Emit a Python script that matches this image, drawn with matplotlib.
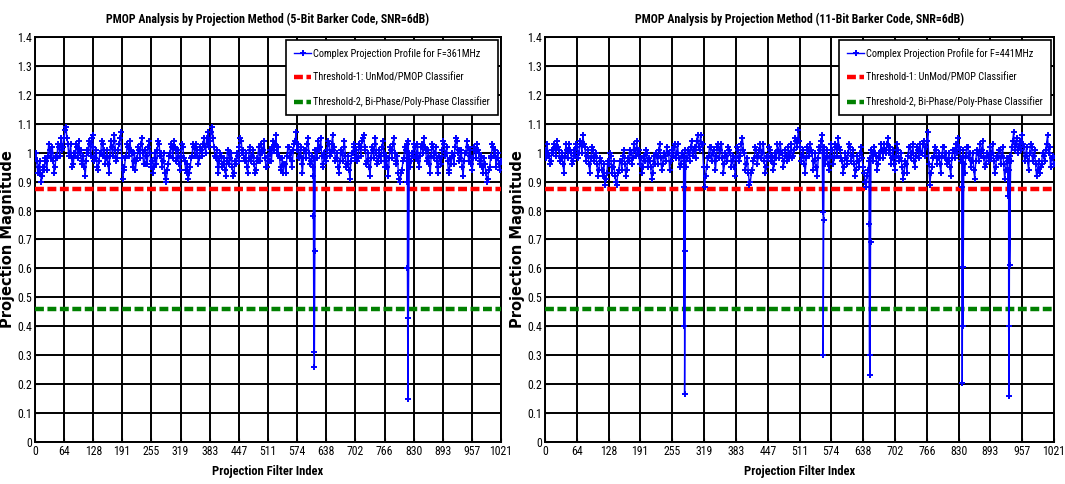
import numpy as np
import matplotlib
matplotlib.use('Agg')
import matplotlib.pyplot as plt
from matplotlib import font_manager as fm

# projection profile, read at filter index 0, 4, ..., 1020
left_profile = [
    0.98, 0.97, 0.95, 0.93, 0.92, 0.94, 0.97, 0.99, 1.01, 1.00, 0.97, 0.95, 0.98, 1.02, 1.03, 1.01,
    1.05, 1.09, 1.03, 1.00, 0.98, 0.96, 0.99, 1.02, 1.04, 1.01, 0.97, 0.95, 0.97, 1.00, 1.03, 1.05,
    1.02, 0.98, 0.95, 0.97, 1.00, 1.03, 1.01, 0.98, 0.96, 0.99, 1.02, 1.04, 1.01, 0.98, 1.03, 1.07,
    0.91, 0.95, 0.99, 1.02, 1.04, 1.00, 0.97, 0.94, 0.98, 1.01, 1.03, 1.00, 0.96, 0.99, 1.02, 1.00,
    0.97, 0.95, 0.98, 1.01, 1.03, 1.00, 0.97, 0.93, 0.91, 0.96, 1.00, 1.02, 1.04, 1.01, 0.98, 0.96,
    0.99, 1.02, 0.97, 0.93, 0.91, 0.95, 0.99, 1.02, 1.03, 1.00, 0.98, 1.01, 1.03, 1.02, 1.05, 1.07,
    1.04, 1.09, 1.02, 0.98, 0.95, 0.97, 0.99, 0.96, 0.94, 0.97, 1.00, 0.98, 0.95, 0.93, 0.96, 0.99,
    1.02, 1.04, 1.01, 0.97, 0.95, 0.98, 1.01, 0.99, 0.96, 0.94, 0.97, 1.00, 1.03, 1.01, 0.98, 0.95,
    0.97, 1.00, 1.02, 1.01, 1.06, 1.02, 0.98, 0.95, 0.93, 0.96, 0.99, 1.02, 1.00, 0.97, 1.03, 1.07,
    1.03, 0.99, 0.96, 0.98, 1.01, 1.03, 1.00, 0.97, 0.95, 0.98, 1.01, 1.04, 1.02, 0.99, 0.96, 0.98,
    1.01, 1.03, 1.00, 1.06, 1.02, 0.98, 0.95, 0.97, 1.00, 1.02, 0.99, 0.96, 0.94, 0.97, 1.00, 1.03,
    1.01, 0.98, 1.02, 1.04, 1.06, 1.01, 0.97, 0.95, 0.98, 1.01, 1.03, 1.00, 0.97, 0.99, 1.02, 1.00,
    0.97, 0.95, 0.98, 1.01, 1.03, 1.00, 0.96, 0.93, 0.90, 0.94, 0.98, 1.01, 1.03, 1.00, 0.97, 0.99,
    1.02, 1.00, 0.97, 0.99, 1.03, 1.05, 1.01, 0.98, 0.96, 0.99, 1.02, 1.00, 0.97, 0.95, 0.98, 1.01,
    1.03, 1.00, 0.97, 0.94, 0.96, 0.99, 1.02, 1.04, 1.01, 0.98, 0.95, 0.97, 1.00, 1.02, 0.99, 0.96,
    0.98, 1.01, 1.03, 1.00, 0.97, 0.95, 0.98, 0.93, 0.91, 0.95, 0.99, 1.02, 1.01, 0.98, 0.96, 0.97,
]
# in-between samples, filter index 2, 6, ..., 1018
left_profile_mid = [
    1.00, 0.93, 0.97, 0.90, 0.95, 0.98, 0.94, 1.03, 0.98, 1.02, 0.93, 0.99, 1.03, 0.99, 1.05, 1.02,
    1.08, 1.05, 0.99, 1.03, 0.95, 1.00, 1.03, 0.98, 1.00, 0.96, 0.99, 0.92, 1.01, 1.04, 0.99, 1.06,
    0.97, 1.01, 0.94, 1.00, 1.04, 0.99, 0.96, 1.01, 0.93, 1.04, 0.99, 1.06, 0.97, 1.01, 1.05, 0.98,
    0.94, 0.98, 1.03, 0.99, 1.01, 0.95, 1.00, 0.97, 1.02, 0.98, 1.05, 0.96, 1.01, 0.96, 1.04, 0.95,
    0.93, 1.00, 0.96, 1.04, 0.99, 0.95, 1.00, 0.90, 0.94, 0.99, 1.03, 0.98, 1.02, 0.97, 1.01, 0.94,
    1.03, 0.98, 0.94, 0.96, 0.93, 0.98, 1.03, 0.99, 1.01, 0.96, 1.02, 0.99, 1.05, 1.00, 1.03, 1.02,
    1.07, 1.05, 0.99, 1.01, 0.93, 1.00, 0.95, 0.98, 0.92, 1.01, 0.96, 1.00, 0.92, 0.97, 1.00, 0.97,
    1.05, 1.00, 0.98, 1.00, 0.93, 1.02, 0.97, 1.01, 0.93, 0.98, 1.02, 0.97, 1.00, 1.04, 0.95, 0.99,
    1.01, 0.97, 1.04, 1.03, 1.00, 0.99, 0.94, 0.98, 0.96, 0.93, 1.02, 0.98, 0.95, 1.01, 1.04, 1.01,
    0.98, 1.02, 0.93, 1.01, 0.98, 1.05, 0.96, 0.99, 0.92, 1.01, 0.98, 1.01, 1.05, 0.95, 1.00, 0.97,
    1.04, 0.99, 1.03, 1.01, 0.97, 1.00, 0.93, 1.01, 0.97, 1.04, 0.95, 0.99, 0.91, 1.00, 1.02, 0.98,
    0.97, 1.03, 0.99, 1.05, 1.02, 0.96, 1.00, 0.92, 1.02, 0.98, 1.05, 0.96, 1.01, 0.97, 1.04, 0.95,
    0.99, 0.92, 1.02, 0.98, 1.05, 0.97, 0.99, 0.91, 0.93, 0.97, 1.02, 0.98, 1.04, 0.95, 1.00, 1.03,
    0.98, 1.03, 0.95, 1.02, 1.00, 1.02, 0.97, 1.01, 0.93, 1.03, 0.98, 1.02, 0.93, 0.99, 0.96, 1.04,
    0.99, 1.02, 0.93, 0.98, 1.00, 0.96, 1.05, 1.00, 0.97, 1.01, 0.92, 1.00, 1.04, 0.97, 1.01, 0.94,
    1.02, 0.98, 1.01, 0.96, 0.99, 0.93, 0.96, 0.90, 0.94, 0.98, 1.03, 0.99, 0.95, 1.00, 0.94,
]
right_profile = [
    1.01, 1.03, 0.99, 0.97, 1.00, 1.02, 1.04, 1.01, 0.98, 0.96, 0.99, 1.01, 1.03, 1.00, 0.97, 0.99,
    1.02, 1.00, 1.03, 1.06, 1.02, 0.99, 0.96, 0.98, 1.01, 0.99, 0.96, 0.94, 0.97, 0.92, 0.89, 0.93,
    0.96, 0.99, 0.95, 0.92, 0.89, 0.94, 0.97, 0.99, 0.96, 0.94, 0.97, 1.00, 0.98, 1.01, 1.04, 1.01,
    0.98, 0.95, 0.97, 1.00, 0.98, 0.95, 0.93, 0.96, 0.99, 1.01, 0.98, 0.96, 0.99, 1.02, 1.00, 0.97,
    0.99, 1.03, 1.00, 0.98, 0.96, 0.99, 1.01, 0.98, 1.00, 1.02, 0.99, 1.02, 1.04, 1.02, 1.06, 1.03,
    0.88, 0.95, 0.99, 1.02, 1.00, 0.97, 0.99, 1.03, 1.01, 0.98, 0.96, 0.99, 1.02, 1.00, 0.97, 0.95,
    0.98, 1.01, 0.99, 1.05, 1.00, 0.96, 0.93, 0.90, 0.94, 0.98, 1.01, 0.99, 1.03, 1.00, 0.97, 0.95,
    0.98, 1.01, 0.99, 0.96, 0.98, 1.01, 1.03, 1.00, 0.97, 0.99, 1.02, 1.00, 0.98, 1.01, 1.04, 1.08,
    1.02, 0.99, 0.96, 0.98, 1.01, 1.03, 1.00, 0.97, 0.95, 0.98, 1.01, 1.06, 1.02, 0.98, 0.96, 0.99,
    1.01, 0.98, 1.02, 1.05, 1.01, 0.97, 0.95, 0.98, 1.00, 1.02, 0.99, 0.96, 0.94, 0.97, 1.00, 0.98,
    0.93, 0.88, 0.94, 0.98, 1.00, 1.02, 0.99, 0.96, 0.98, 1.01, 1.03, 1.00, 1.05, 1.02, 0.98, 0.96,
    0.99, 1.01, 0.98, 0.95, 0.93, 0.96, 0.99, 1.02, 1.00, 0.97, 0.99, 1.01, 1.03, 1.00, 1.04, 1.02,
    1.07, 0.89, 0.95, 0.99, 1.01, 0.98, 0.96, 0.99, 1.02, 1.00, 0.97, 0.95, 0.98, 1.01, 1.03, 1.05,
    1.01, 0.98, 0.96, 0.99, 1.02, 1.00, 0.97, 0.94, 0.97, 1.00, 1.03, 1.01, 0.98, 0.96, 0.99, 1.02,
    1.00, 0.97, 0.95, 0.98, 1.01, 0.99, 0.96, 0.94, 0.97, 0.99, 1.02, 1.07, 1.03, 1.00, 1.04, 1.06,
    1.02, 0.99, 0.97, 1.00, 1.02, 0.99, 0.96, 0.94, 0.93, 0.96, 0.99, 1.01, 1.06, 1.02, 0.98, 0.96,
]
right_profile_mid = [
    0.98, 1.00, 0.96, 1.01, 1.03, 0.99, 1.02, 0.97, 1.00, 0.93, 1.03, 0.98, 1.01, 0.96, 1.01, 1.03,
    0.98, 1.04, 1.00, 1.03, 0.97, 1.01, 0.93, 1.02, 0.97, 1.00, 0.92, 0.98, 0.94, 0.96, 0.91, 0.97,
    1.00, 0.93, 0.97, 0.90, 0.93, 0.97, 0.94, 1.01, 0.92, 0.98, 1.01, 0.96, 1.03, 0.99, 1.00, 0.96,
    0.93, 0.99, 1.01, 0.95, 0.97, 0.91, 0.99, 1.00, 0.96, 1.03, 0.94, 1.00, 0.97, 1.00, 0.94, 1.01,
    1.02, 0.98, 1.03, 0.95, 1.00, 0.97, 0.95, 1.01, 0.97, 1.04, 1.01, 0.98, 1.06, 1.01, 1.03, 0.95,
    0.92, 0.98, 1.02, 0.97, 1.01, 0.94, 1.02, 0.98, 1.03, 0.93, 1.00, 0.97, 1.01, 0.95, 0.99, 0.92,
    1.02, 0.97, 1.03, 1.01, 0.94, 0.98, 0.89, 0.93, 0.97, 1.02, 0.96, 1.01, 0.98, 1.03, 0.93, 0.99,
    1.02, 0.97, 0.94, 1.00, 1.03, 0.98, 1.00, 0.95, 1.01, 0.97, 0.98, 1.03, 0.99, 1.05, 1.02, 1.04,
    0.97, 1.01, 0.93, 1.02, 0.99, 1.01, 0.94, 1.00, 0.92, 1.02, 1.04, 1.00, 0.96, 1.01, 0.94, 1.03,
    0.96, 1.03, 0.99, 1.02, 0.98, 0.93, 1.00, 0.96, 1.03, 0.97, 1.01, 0.92, 0.99, 0.95, 1.02, 0.95,
    0.90, 0.92, 0.97, 1.01, 0.97, 1.00, 0.94, 1.00, 1.03, 0.98, 1.01, 1.03, 1.00, 0.96, 1.01, 0.94,
    1.03, 0.97, 1.00, 0.91, 0.97, 0.93, 1.02, 0.98, 1.03, 0.95, 1.02, 0.98, 1.00, 1.03, 0.99, 1.04,
    0.96, 0.93, 0.98, 1.02, 0.96, 1.00, 0.93, 1.02, 0.98, 0.96, 1.00, 0.92, 1.01, 0.98, 1.00, 1.02,
    0.97, 1.01, 0.93, 1.02, 0.98, 0.95, 1.00, 0.91, 1.01, 0.97, 0.99, 1.04, 0.95, 1.00, 0.97, 0.98,
    1.03, 0.93, 0.99, 1.01, 0.96, 1.02, 0.91, 0.98, 0.94, 0.97, 1.04, 1.01, 1.05, 1.02, 1.01, 1.03,
    0.97, 1.02, 0.94, 1.03, 0.97, 1.01, 0.92, 0.97, 0.95, 1.00, 0.97, 1.03, 1.00, 0.95, 0.99,
]

# dips where the filter matches the signal
left_dip_idx = [610, 611, 612, 613, 815, 816, 817, 818]
left_dip_val = [0.78, 0.31, 0.26, 0.66, 0.90, 0.60, 0.15, 0.43]
right_dip_idx = [278, 279, 280, 281, 557, 558, 559, 650, 651, 652, 653,
                 836, 837, 838, 839, 929, 930, 931, 932]
right_dip_val = [0.88, 0.40, 0.165, 0.66, 0.794, 0.30, 0.767, 0.754, 0.30, 0.233, 0.69,
                 0.88, 0.205, 0.40, 0.605, 0.85, 0.40, 0.16, 0.612]

threshold_1 = 0.875
threshold_2 = 0.46

x_ticks = [0, 64, 128, 191, 255, 319, 383, 447, 511, 574, 638, 702, 766, 830, 893, 957, 1021]
y_ticks = [0, 0.1, 0.2, 0.3, 0.4, 0.5, 0.6, 0.7, 0.8, 0.9, 1, 1.1, 1.2, 1.3, 1.4]
y_ticklabels = ['0', '0.1', '0.2', '0.3', '0.4', '0.5', '0.6', '0.7', '0.8', '0.9',
                '1', '1.1', '1.2', '1.3', '1.4']

titles = ['PMOP Analysis by Projection Method (5-Bit Barker Code, SNR=6dB)',
          'PMOP Analysis by Projection Method (11-Bit Barker Code, SNR=6dB)']
freqs = ['361MHz', '441MHz']


def find_narrow(bold):
    # look for a condensed sans face, the original uses Arial Narrow
    prefs = ['Liberation Sans Narrow', 'Arial Narrow', 'Roboto Condensed', 'Noto Sans',
             'Open Sans', 'DejaVu Sans', 'Lato', 'Inter']
    best = None
    for f in fm.fontManager.ttflist:
        narrow = ('Narrow' in f.name or 'Condensed' in f.name or 'Condensed' in f.fname
                  or f.stretch in ('condensed', 'semi-condensed', 'extra-condensed', 550, 625, 700))
        if not narrow or f.style != 'normal':
            continue
        if 'Mono' in f.name or 'Serif' in f.name:
            continue
        w = f.weight if isinstance(f.weight, int) else (700 if 'bold' in str(f.weight) else 400)
        if bold != (w >= 600):
            continue
        rank_extra = 1 if ('ExtraCondensed' in f.fname or 'SemiCondensed' in f.fname) else 0
        rank = len(prefs)
        for i, p in enumerate(prefs):
            if f.name.startswith(p):
                rank = i
                break
        key = (rank, rank_extra, abs(w - (700 if bold else 400)))
        if best is None or key < best[0]:
            best = (key, f.fname)
    if best is None:
        return None
    return best[1]


reg_path = find_narrow(False)
bold_path = find_narrow(True)
if reg_path and bold_path:
    fp_tick = fm.FontProperties(fname=reg_path, size=8.5)
    fp_leg = fm.FontProperties(fname=reg_path, size=7.4)
    fp_title = fm.FontProperties(fname=bold_path, size=8.6)
    fp_xlab = fm.FontProperties(fname=bold_path, size=9)
else:
    fp_tick = fm.FontProperties(family='Liberation Sans', size=7)
    fp_leg = fm.FontProperties(family='Liberation Sans', size=6.3)
    fp_title = fm.FontProperties(family='Liberation Sans', weight='bold', size=7.3)
    fp_xlab = fm.FontProperties(family='Liberation Sans', weight='bold', size=7.5)
fp_ylab = fm.FontProperties(family='DejaVu Sans', weight='bold', size=10.5)


def merge(profile, profile_mid, dip_idx, dip_val):
    idx_a = list(range(0, 1021, 4))[:len(profile)]
    idx_b = list(range(2, 1021, 4))[:len(profile_mid)]
    idx = idx_a + idx_b + dip_idx
    val = profile[:len(idx_a)] + profile_mid[:len(idx_b)] + dip_val
    order = np.argsort(idx, kind='stable')
    return np.array(idx)[order], np.array(val)[order]


fig = plt.figure(figsize=(10.65, 4.84), dpi=100)
ax1 = fig.add_axes([35 / 1065, 0.0868, 466 / 1065, 0.8368])
ax2 = fig.add_axes([545 / 1065, 0.0868, 509 / 1065, 0.8368])

panels = [(ax1, left_profile, left_profile_mid, left_dip_idx, left_dip_val),
          (ax2, right_profile, right_profile_mid, right_dip_idx, right_dip_val)]

for k, (ax, prof, prof_mid, di, dv) in enumerate(panels):
    x, y = merge(prof, prof_mid, di, dv)
    ax.plot(x, y, '-', color='blue', lw=1.0, marker='+', ms=5, mew=1.4,
            label='Complex Projection Profile for F=' + freqs[k], zorder=4)
    ax.axhline(threshold_1, color='red', ls=(0, (2, 0.8)), lw=3.2,
               label='Threshold-1: UnMod/PMOP Classifier', zorder=3)
    ax.axhline(threshold_2, color='green', ls=(0, (2, 0.8)), lw=3.2,
               label='Threshold-2, Bi-Phase/Poly-Phase Classifier', zorder=3)
    ax.set_xlim(0, 1021)
    ax.set_ylim(0, 1.4)
    ax.set_xticks(x_ticks)
    ax.set_xticklabels([str(t) for t in x_ticks], fontproperties=fp_tick)
    ax.set_yticks(y_ticks)
    ax.set_yticklabels(y_ticklabels, fontproperties=fp_tick)
    ax.tick_params(direction='in', length=3, pad=2)
    ax.grid(True, color='black', lw=1.4, ls='-')
    ax.set_axisbelow(True)
    for s in ax.spines.values():
        s.set_linewidth(1.4)
    ax.set_title(titles[k], fontproperties=fp_title, pad=10)
    ax.set_xlabel('Projection Filter Index', fontproperties=fp_xlab, labelpad=5)
    ax.set_ylabel('Projection Magnitude', fontproperties=fp_ylab, labelpad=2)
    leg = ax.legend(loc='upper right', prop=fp_leg, frameon=True, fancybox=False,
                    framealpha=1, edgecolor='black', handlelength=1.7,
                    handletextpad=0.2, borderpad=0.75, labelspacing=1.35,
                    borderaxespad=0.3)
    leg.get_frame().set_linewidth(1.2)

fig.savefig('out.png', dpi=100)
